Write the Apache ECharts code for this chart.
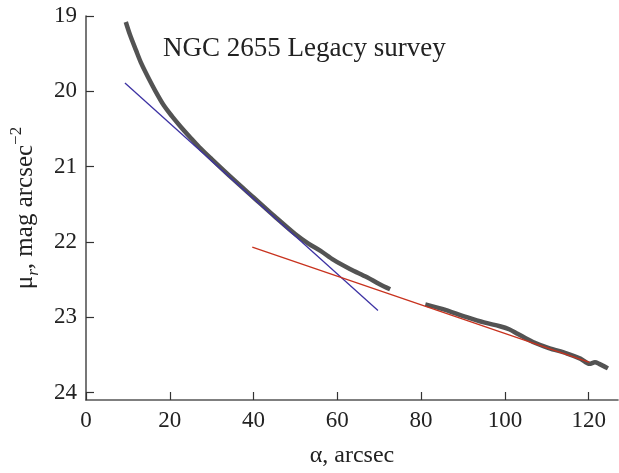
<!DOCTYPE html>
<html>
<head>
<meta charset="utf-8">
<script src="https://cdn.jsdelivr.net/npm/echarts@6/dist/echarts.min.js"></script>
<style>html,body{margin:0;padding:0;background:#fff}#c{width:619px;height:473px}</style>
</head>
<body>
<div id="c"></div>
<script>
// Inner profile (arcsec, mag arcsec^-2)
const innerX = [9.5, 10.5, 11.9, 13.2, 14.7, 16.6, 18.6, 20.5, 22.6, 25.0, 27.0, 30.0, 35.0, 40.0, 45.0, 50.0, 53.0, 56.0, 59.1, 63.0, 67.1, 70.0, 72.6];
const innerY = [19.08, 19.25, 19.45, 19.63, 19.80, 20.00, 20.19, 20.33, 20.47, 20.62, 20.74, 20.90, 21.16, 21.41, 21.66, 21.90, 22.02, 22.12, 22.24, 22.36, 22.47, 22.56, 22.63];
// Outer profile
const outerX = [81.0, 85.0, 90.9, 95.0, 98.8, 101.0, 103.0, 106.7, 110.5, 114.7, 118.0, 120.2, 121.5, 122.5, 124.6];
const outerY = [22.83, 22.89, 23.00, 23.07, 23.12, 23.16, 23.22, 23.33, 23.41, 23.48, 23.55, 23.62, 23.60, 23.62, 23.68];
// Linear fits
const fitInnerX = [9.3, 69.7];
const fitInnerY = [19.89, 22.91];
const fitOuterX = [39.7, 120.2];
const fitOuterY = [22.07, 23.60];
// Ticks
const xTicks = [0, 20, 40, 60, 80, 100, 120];
const yTicks = [19, 20, 21, 22, 23, 24];
const label = 'NGC 2655 Legacy survey';

const zip = (a, b) => a.map((v, i) => [v, b[i]]);
const FONT = 'Liberation Serif';
const TXT = '#222';
const AX = '#555';

const chart = echarts.init(document.getElementById('c'), null, {renderer: 'canvas'});
chart.setOption({
  animation: false,
  backgroundColor: '#fff',
  grid: {left: 85, right: 1, top: 16, bottom: 69, containLabel: false},
  xAxis: {
    type: 'value', min: 0, max: 127,
    name: 'α, arcsec', nameLocation: 'middle', nameGap: 44,
    nameTextStyle: {fontFamily: FONT, fontSize: 24, color: TXT},
    axisLine: {onZero: false, lineStyle: {color: AX, width: 1.6}},
    axisTick: {inside: true, length: 8, lineStyle: {color: '#333', width: 1.2}, customValues: xTicks},
    axisLabel: {fontFamily: FONT, fontSize: 23, color: TXT, margin: 9, customValues: xTicks},
    splitLine: {show: false}
  },
  yAxis: {
    type: 'value', min: 19, max: 24.1, inverse: true,
    name: '{a|μ}{s|r}{a|, mag arcsec}{p|−2}', nameLocation: 'middle', nameGap: 44, nameRotate: 90,
    nameTextStyle: {
      fontFamily: FONT, fontSize: 25, color: TXT,
      rich: {
        a: {fontFamily: FONT, fontSize: 25, color: TXT, lineHeight: 34},
        s: {fontFamily: FONT, fontSize: 17, fontStyle: 'italic', color: TXT, verticalAlign: 'bottom', lineHeight: 17},
        p: {fontFamily: FONT, fontSize: 17, color: TXT, verticalAlign: 'top', lineHeight: 17}
      }
    },
    axisLine: {lineStyle: {color: AX, width: 1.6}},
    axisTick: {inside: true, length: 8, lineStyle: {color: '#333', width: 1.2}, customValues: yTicks},
    axisLabel: {fontFamily: FONT, fontSize: 23, color: TXT, margin: 9, customValues: yTicks},
    splitLine: {show: false}
  },
  graphic: [{
    type: 'text', left: 163, top: 35,
    style: {text: label, fontFamily: FONT, fontSize: 27, fill: TXT}
  }],
  series: [
    {type: 'line', data: zip(fitInnerX, fitInnerY), symbol: 'none', lineStyle: {color: '#3d32a3', width: 1.3}, z: 3},
    {type: 'line', data: zip(fitOuterX, fitOuterY), symbol: 'none', lineStyle: {color: '#c8321e', width: 1.3}, z: 3},
    {type: 'line', data: zip(innerX, innerY), symbol: 'none', smooth: 0.3, lineStyle: {color: '#4a4a4a', width: 4.5, opacity: 0.95}, z: 2},
    {type: 'line', data: zip(outerX, outerY), symbol: 'none', smooth: 0.3, lineStyle: {color: '#4a4a4a', width: 4.5, opacity: 0.95}, z: 2}
  ]
});
</script>
</body>
</html>
